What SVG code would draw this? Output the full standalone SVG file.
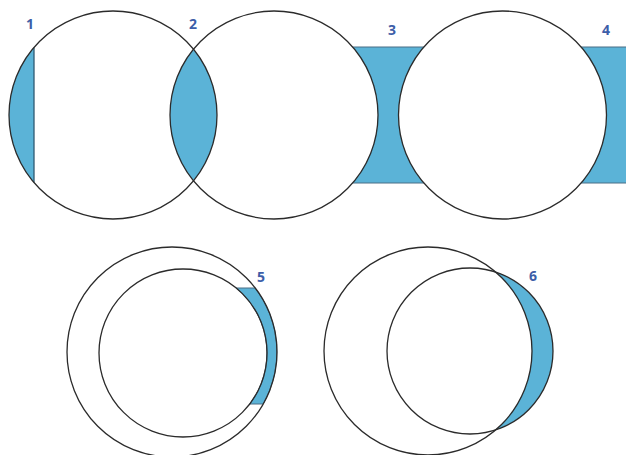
<svg xmlns="http://www.w3.org/2000/svg" width="626" height="455" viewBox="0 0 626 455">
<style>
.bg{fill:#ffffff;stroke:none}
.sh{fill:#5bb3d7;stroke:#4a6f86;stroke-width:1}
.shn{fill:#5bb3d7;stroke:none}
.c{fill:none;stroke:#2b2b2b;stroke-width:1.3}
.lb{font-family:"Open Sans","Liberation Sans",sans-serif;font-weight:bold;font-size:14px;fill:#3d5ea8;text-anchor:middle}
</style>
<rect x="0" y="0" width="626" height="455" fill="#ffffff"/>
<g id="top-row">
  <rect class="sh" x="300" y="47" width="170" height="136"/>
  <rect class="sh" x="560" y="47" width="70" height="136"/>
  <circle class="bg" cx="113" cy="115" r="104"/>
  <circle class="bg" cx="274" cy="115" r="104"/>
  <circle class="bg" cx="502.5" cy="115" r="104"/>
  <path class="shn" d="M34,47.4 L34,182.6 A104,104 0 0 1 34,47.4 Z"/>
  <line x1="34" y1="47.4" x2="34" y2="182.6" stroke="#2f5a72" stroke-width="1.3"/>
  <path class="shn" d="M193.5,49.2 A104,104 0 0 1 193.5,180.8 A104,104 0 0 1 193.5,49.2 Z"/>
  <circle class="c" cx="113" cy="115" r="104"/>
  <circle class="c" cx="274" cy="115" r="104"/>
  <circle class="c" cx="502.5" cy="115" r="104"/>
</g>
<g id="bottom-left">
  <path class="sh" d="M236.2,288 L255.2,288 A105,105 0 0 1 263.2,404 L249.7,404 A84,84 0 0 0 236.2,288 Z"/>
  <circle class="c" cx="172" cy="352" r="105"/>
  <circle class="c" cx="183" cy="353" r="84"/>
</g>
<g id="bottom-right">
  <path class="shn" d="M495.75,272.1 A83,83 0 0 1 495.75,429.9 A104,104 0 0 0 495.75,272.1 Z"/>
  <circle class="c" cx="428" cy="351" r="104"/>
  <circle class="c" cx="470" cy="351" r="83"/>
</g>
<g id="labels">
  <text class="lb" x="30" y="29">1</text>
  <text class="lb" x="193" y="29">2</text>
  <text class="lb" x="392" y="35">3</text>
  <text class="lb" x="606" y="35">4</text>
  <text class="lb" x="261" y="282">5</text>
  <text class="lb" x="533" y="281">6</text>
</g>
</svg>
